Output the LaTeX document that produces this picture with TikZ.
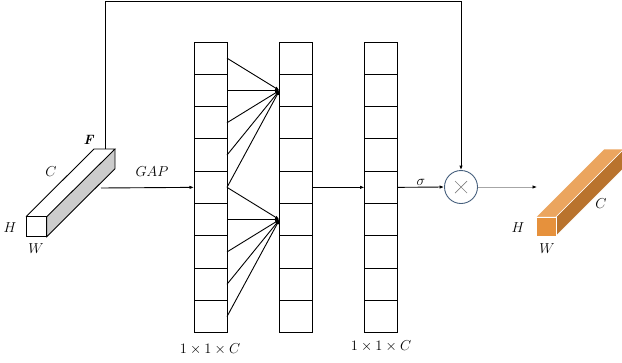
\documentclass[tikz,border=0pt]{standalone}
\usetikzlibrary{arrows.meta,calc}
\definecolor{orfront}{RGB}{230,145,60}
\definecolor{ortop}{RGB}{235,165,95}
\definecolor{orside}{RGB}{185,115,45}
\definecolor{circ}{RGB}{70,95,125}
\begin{document}
\begin{tikzpicture}[x=1pt,y=-1pt,
  cell/.style={draw,line width=0.9pt,minimum width=33pt,minimum height=32.3pt,inner sep=0pt,outer sep=0pt},
  arr/.style={line width=0.9pt,-{Latex[length=4.5pt,width=3.5pt]}},
  lbl/.style={font=\fontsize{13.5}{15}\selectfont,inner sep=1pt}]
\useasboundingbox (0,0) rectangle (622,362);
% columns
\foreach \i in {1,...,9}{
  \node[cell] (a\i) at (210.5,{42+16.15+32.3*(\i-1)}) {};
  \node[cell] (b\i) at (296,{42+16.15+32.3*(\i-1)}) {};
  \node[cell] (c\i) at (381,{42+16.15+32.3*(\i-1)}) {};
}
% fans
\foreach \i in {1,...,5}{ \draw[arr] (a\i.east) -- (b2.west); }
\foreach \i in {5,...,9}{ \draw[arr] (a\i.east) -- (b6.west); }
\draw[arr] (b5.east) -- (c5.west);
% multiply circle
\node[draw=circ,line width=0.9pt,circle,minimum size=33pt,inner sep=0pt] (m) at (461,187) {};
\draw[gray,line width=0.7pt] ($(m.center)+(-6,-6)$) -- ($(m.center)+(6,6)$) ($(m.center)+(-6,6)$) -- ($(m.center)+(6,-6)$);
\draw[arr] (c5.east) -- node[lbl,above] {$\sigma$} (m.west);
% left cuboid
\fill[gray!40] (46.7,216.7) -- (46.7,236.7) -- (115,168.7) -- (115,149) -- cycle;
\draw[line width=0.9pt,fill=white] (26,216.7) rectangle (46.7,236.7);
\draw[line width=0.9pt] (26,216.7) -- (94,149) -- (115,149) -- (46.7,216.7);
\draw[line width=0.9pt] (46.7,216.7) -- (46.7,236.7) -- (115,168.7) -- (115,149);
\coordinate (ftop) at (105,149);
\coordinate (gs) at (101,188);
\draw[arr] (ftop) -- (105,1) -| (m.north);
\draw[arr] (gs) -- (a5.west);
\node[lbl] (lF) at (89,140) {\textbf{\textit{F}}};
\node[lbl] (lC) at (51,172) {$C$};
\node[lbl] (lH) at (10,228) {$H$};
\node[lbl] (lW) at (36,249) {$W$};
\node[lbl] (lG) at (152,172) {$GAP$};
% right cuboid
\coordinate (out) at (537,187);
\draw[gray!70,line width=0.7pt,-{Latex[length=4.5pt,width=3.5pt,black]}] (m.east) -- (out);
\begin{scope}[draw=white,line width=0.5pt]
\filldraw[fill=ortop] (536,217) -- (604,149) -- (624,149) -- (556,217) -- cycle;
\filldraw[fill=orside] (556,217) -- (624,149) -- (624,168) -- (556,236) -- cycle;
\filldraw[fill=orfront] (536,217) rectangle (556,236);
\end{scope}
\node[lbl] (rH) at (518,228) {$H$};
\node[lbl] (rW) at (547,249) {$W$};
\node[lbl] (rC) at (601,204) {$C$};
% bottom labels
\node[lbl] (d1) at (210,349) {$1\times1\times C$};
\node[lbl] (d2) at (381,346) {$1\times1\times C$};
\end{tikzpicture}
\end{document}
